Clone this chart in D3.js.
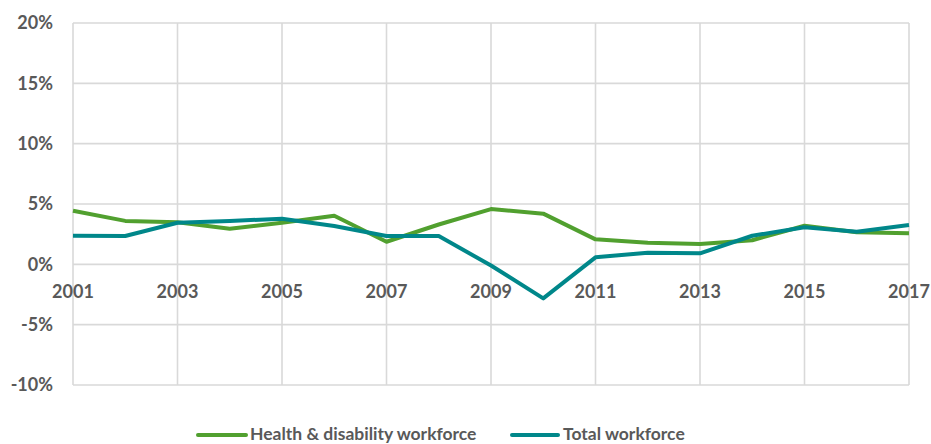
<!DOCTYPE html>
<html><head><meta charset="utf-8">
<script src="https://cdn.jsdelivr.net/npm/d3@7"></script>
<style>body{margin:0;background:#fff}svg{display:block}</style>
</head><body>
<svg id="c" width="931" height="444"></svg>
<script>
const years = [2001,2002,2003,2004,2005,2006,2007,2008,2009,2010,2011,2012,2013,2014,2015,2016,2017];
const healthDisability = [4.44,3.6,3.48,2.95,3.45,4.03,1.87,3.3,4.58,4.2,2.07,1.79,1.68,2.0,3.2,2.65,2.57];
const totalWorkforce = [2.37,2.35,3.45,3.6,3.78,3.18,2.35,2.35,-0.1,-2.82,0.58,0.96,0.91,2.37,3.07,2.7,3.26];
const yTicks = [-10,-5,0,5,10,15,20];
const xTicks = [2001,2003,2005,2007,2009,2011,2013,2015,2017];
const seriesNames = ["Health & disability workforce","Total workforce"];
const colors = ["#51a02f","#00878a"];

const svg = d3.select("#c");
const font = "Lato, 'Liberation Sans', Arial, sans-serif";
const x = d3.scaleLinear().domain([2001,2017]).range([73,909]);
const y = d3.scaleLinear().domain([-10,20]).range([385,23]);

const grid = svg.append("g").attr("stroke","#d9d9d9").attr("stroke-width",1.6);
yTicks.forEach(t=>grid.append("line").attr("x1",x(2001)).attr("x2",x(2017)).attr("y1",y(t)).attr("y2",y(t)));
xTicks.forEach(t=>grid.append("line").attr("x1",x(t)).attr("x2",x(t)).attr("y1",y(20)).attr("y2",y(-10)));

svg.append("g").selectAll("text").data(yTicks).join("text")
  .attr("x",53).attr("y",d=>y(d)).attr("dy","0.35em").attr("text-anchor","end")
  .attr("font-family",font).attr("font-weight","bold").attr("font-size",18).attr("fill","#595959")
  .text(d=>d+"%");
svg.append("g").selectAll("text").data(xTicks).join("text")
  .attr("x",d=>x(d)).attr("y",298).attr("text-anchor","middle")
  .attr("font-family",font).attr("font-weight","bold").attr("font-size",18).attr("fill","#595959")
  .text(d=>d);

const line = d3.line().x((d,i)=>x(years[i])).y(d=>y(d));
[healthDisability,totalWorkforce].forEach((s,k)=>{
  svg.append("path").datum(s).attr("d",line).attr("fill","none")
    .attr("stroke",colors[k]).attr("stroke-width",4).attr("stroke-linejoin","round");
});

const leg = [{x0:198,x1:246,tx:250},{x0:512,x1:558,tx:563}];
leg.forEach((l,k)=>{
  svg.append("line").attr("x1",l.x0).attr("x2",l.x1).attr("y1",435).attr("y2",435)
    .attr("stroke",colors[k]).attr("stroke-width",4).attr("stroke-linecap","round");
  svg.append("text").attr("x",l.tx).attr("y",440).attr("font-family",font).attr("font-weight","bold")
    .attr("font-size",17.5).attr("fill","#595959").text(seriesNames[k]);
});
</script>
</body></html>
